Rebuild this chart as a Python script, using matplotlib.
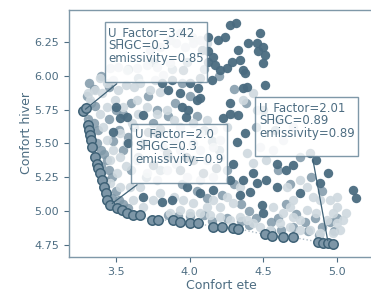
import matplotlib
matplotlib.use("Agg")
import matplotlib.pyplot as plt

# pareto front (dark edged points)
pareto_x = [3.278, 3.296, 3.312, 3.319, 3.324, 3.328, 3.335, 3.357, 3.369, 3.380, 3.391, 3.403,
            3.419, 3.432, 3.441, 3.459, 3.504, 3.539, 3.572, 3.618, 3.663, 3.742, 3.787, 3.889,
            3.934, 4.002, 4.058, 4.160, 4.217, 4.296, 4.330, 4.511, 4.556, 4.635, 4.703, 4.872,
            4.906, 4.940, 4.974]
pareto_y = [5.740, 5.760, 5.636, 5.600, 5.560, 5.525, 5.476, 5.400, 5.350, 5.316, 5.280, 5.230,
            5.180, 5.130, 5.080, 5.044, 5.020, 5.007, 4.988, 4.970, 4.970, 4.933, 4.933, 4.933,
            4.921, 4.914, 4.909, 4.884, 4.884, 4.872, 4.869, 4.827, 4.815, 4.810, 4.805, 4.773,
            4.766, 4.761, 4.756]

dark_x = [4.273, 4.314, 4.477, 4.398, 4.454, 4.500, 4.466, 4.510, 4.500, 4.330, 4.340, 4.364,
          4.285, 4.250, 4.206, 4.172, 4.127, 4.127, 4.195, 4.240, 4.127, 4.160, 4.080, 4.070,
          4.149, 4.000, 4.058, 3.934, 3.877, 3.957, 3.810, 3.855, 3.945, 3.990, 3.978, 4.047,
          4.070, 4.228, 4.273, 4.330, 4.319, 4.375, 4.386, 4.364, 4.270, 4.375, 4.510, 3.719,
          3.776, 3.800, 3.685, 3.572, 3.500, 3.527, 3.480, 3.584, 3.753, 3.844, 3.978, 4.025,
          4.296, 4.273, 4.364, 4.432, 4.454, 4.520, 4.590, 4.655, 4.748, 4.590, 4.860, 4.885,
          4.940, 5.110, 5.130, 4.816, 4.703, 4.160, 4.410, 4.490, 4.500, 4.340, 4.070, 3.980,
          3.877, 3.810, 3.685, 3.934, 4.090, 4.180]
dark_y = [6.376, 6.388, 6.319, 6.240, 6.245, 6.215, 6.180, 6.154, 6.092, 6.190, 6.117, 6.043,
          6.105, 6.055, 6.043, 6.080, 6.105, 6.290, 6.265, 6.290, 6.180, 6.140, 6.190, 5.980,
          5.970, 5.944, 5.907, 5.870, 5.970, 6.043, 5.944, 5.895, 5.770, 5.747, 5.698, 5.820,
          5.833, 5.685, 5.796, 5.710, 5.510, 5.574, 5.920, 5.907, 5.720, 6.018, 5.930, 5.587,
          5.574, 5.610, 5.710, 5.698, 5.770, 5.685, 5.587, 5.500, 5.340, 5.427, 5.400, 5.377,
          5.350, 5.230, 5.230, 5.280, 5.205, 5.230, 5.350, 5.300, 5.130, 5.180, 5.377, 5.205,
          5.280, 5.155, 5.094, 5.427, 5.340, 5.155, 5.143, 5.044, 4.983, 5.118, 5.130, 5.180,
          5.080, 5.070, 5.106, 5.300, 5.280, 5.316]

mid_x = [3.32, 3.35, 3.30, 3.33, 3.36, 3.31, 3.35, 3.38, 3.37, 3.40, 3.42, 3.44, 3.40, 3.45,
         3.47, 3.43, 3.50, 3.47, 3.52, 3.55, 3.58, 3.50, 3.55, 3.60, 3.45, 3.52, 3.58, 3.62,
         3.48, 3.55, 3.65, 3.60, 3.70, 3.68, 3.75, 3.72, 3.78, 3.85, 3.90, 3.95, 4.00, 4.05,
         4.10, 4.15, 4.20, 4.25, 3.85, 3.80, 3.95, 4.05, 4.12, 4.22, 4.30, 4.35, 4.40, 4.45,
         4.55, 4.60, 4.65, 4.72, 4.78, 4.85, 4.90, 4.95, 5.00, 4.98, 4.88, 4.80, 4.70, 4.62,
         4.55, 4.40, 4.35, 4.25, 4.15, 4.10, 4.00, 3.92, 3.85, 4.60, 4.68, 4.75, 4.82, 4.90,
         4.58, 4.50, 4.45, 4.38, 4.30, 4.20, 4.10, 3.98, 3.88, 3.75, 3.65, 3.58, 3.40, 3.45]
mid_y = [5.95, 5.90, 5.85, 5.80, 5.78, 5.68, 5.65, 5.60, 5.50, 5.45, 5.42, 5.38, 5.33, 5.30,
         5.25, 5.22, 5.15, 5.10, 5.08, 5.05, 5.02, 5.75, 5.72, 5.80, 5.68, 5.60, 5.55, 5.62,
         5.52, 5.45, 5.40, 5.30, 5.25, 5.50, 5.65, 5.85, 5.75, 5.70, 5.80, 5.95, 5.85, 5.70,
         5.60, 5.52, 5.45, 5.30, 5.40, 5.30, 5.20, 5.15, 5.10, 5.12, 5.20, 5.05, 5.00, 4.95,
         4.92, 4.95, 5.05, 4.98, 4.92, 4.95, 4.88, 4.92, 4.95, 4.85, 4.82, 4.85, 4.88, 4.86,
         4.85, 4.90, 4.93, 4.95, 4.93, 4.97, 4.96, 4.96, 4.97, 5.30, 5.20, 5.40, 5.25, 5.15,
         5.60, 5.75, 5.62, 5.80, 5.90, 6.00, 6.05, 6.10, 6.05, 6.10, 5.98, 6.05, 6.00, 5.92]

light_x = [3.460, 3.516, 3.572, 3.640, 3.708, 3.391, 3.437, 3.357, 3.324, 3.312, 3.403, 3.482,
           3.516, 3.570, 3.620, 3.663, 3.730, 3.800, 3.820, 3.765, 3.910, 3.966, 4.020, 4.070,
           4.115, 3.934, 4.013, 3.866, 3.776, 3.866, 3.730, 3.800, 3.640, 3.708, 3.776, 3.844,
           3.890, 3.934, 4.025, 4.070, 4.115, 4.160, 4.206, 3.890, 3.820, 3.934, 4.025, 4.070,
           4.160, 4.206, 4.115, 3.910, 3.844, 3.776, 3.708, 3.640, 3.570, 3.527, 3.480, 3.437,
           3.414, 3.391, 3.437, 3.493, 3.550, 3.606, 3.650, 3.527, 3.572, 3.460, 3.505, 3.460,
           3.527, 3.595, 3.663, 3.618, 3.685, 3.753, 3.800, 3.890, 3.957, 4.025, 4.115, 4.206,
           4.296, 4.160, 4.250, 3.980, 4.070, 4.160, 4.340, 4.296, 4.250, 4.364, 4.432, 4.454,
           4.386, 4.477, 4.432, 4.520, 4.567, 4.635, 4.590, 4.700, 4.567, 4.635, 4.703, 4.748,
           4.793, 4.860, 4.930, 4.974, 4.997, 5.020, 5.040, 4.974, 4.884, 4.817, 4.748, 4.680,
           4.612, 4.545, 4.477, 4.432, 4.386, 4.340, 4.273, 4.206, 4.138, 4.070, 4.000, 3.934,
           3.866, 4.703, 4.748, 4.793, 4.838, 4.884, 4.950, 4.997, 5.060, 4.997, 4.658, 4.680]
light_y = [6.055, 6.067, 6.043, 6.055, 6.080, 5.980, 5.944, 5.895, 5.820, 5.870, 5.870, 5.970,
           5.895, 5.930, 5.920, 5.944, 5.895, 5.880, 6.006, 5.970, 6.240, 6.215, 6.240, 6.265,
           6.240, 6.314, 6.290, 6.265, 6.067, 6.092, 6.190, 6.215, 5.820, 5.770, 5.720, 5.747,
           5.673, 5.624, 5.648, 5.574, 5.673, 5.600, 5.525, 5.525, 5.476, 5.450, 5.500, 5.450,
           5.476, 5.400, 5.377, 5.350, 5.300, 5.230, 5.280, 5.377, 5.330, 5.400, 5.450, 5.525,
           5.624, 5.720, 5.770, 5.820, 5.770, 5.648, 5.720, 5.574, 5.500, 5.377, 5.280, 5.205,
           5.180, 5.180, 5.180, 5.080, 5.032, 5.080, 5.130, 5.106, 5.080, 5.057, 5.032, 5.032,
           5.057, 5.080, 5.106, 5.254, 5.230, 5.254, 5.180, 5.720, 5.624, 5.820, 5.870, 5.747,
           5.427, 5.476, 5.353, 5.377, 5.450, 5.525, 5.673, 5.624, 5.032, 4.983, 4.958, 4.933,
           5.007, 4.983, 4.933, 4.983, 4.909, 4.860, 4.933, 4.835, 4.835, 4.860, 4.860, 4.884,
           4.909, 4.860, 4.884, 4.909, 4.933, 4.958, 4.933, 4.958, 4.970, 4.983, 4.983, 5.007,
           4.983, 5.080, 5.230, 5.180, 5.106, 5.080, 5.080, 5.032, 4.983, 5.106, 5.180, 5.032]

# annotated solutions: (label, point index in pareto list, text position)
notes = [("U_Factor=3.42\nSHGC=0.3\nemissivity=0.85\n", 0, (3.446, 6.368)),
         ("U_Factor=2.0\nSHGC=0.3\nemissivity=0.9\n", 15, (3.629, 5.621)),
         ("U_Factor=2.01\nSHGC=0.89\nemissivity=0.89\n", 37, (4.470, 5.814))]

ink = "#4d6d82"
fig = plt.figure(figsize=(3.71, 2.91), dpi=100)
# right edge of the axes runs just past the figure, as in the source image
ax = fig.add_axes([0.186, 0.117, 0.82, 0.849])

ax.scatter(mid_x, mid_y, s=46, c="#7f98a8", alpha=0.85, linewidths=0)
ax.scatter(light_x, light_y, s=46, c="#cfd9df", alpha=0.9, linewidths=0)
ax.scatter(dark_x, dark_y, s=46, c="#4a6b80", alpha=0.95, linewidths=0)
ax.plot(pareto_x, pareto_y, ls=":", lw=1, color="#aebcc6", zorder=3)
ax.scatter(pareto_x, pareto_y, s=46, c="#7d96a7", edgecolors="#3f6277", linewidths=1.1, zorder=4)

for label, i, pos in notes:
    ax.annotate(label, xy=(pareto_x[i], pareto_y[i]), xytext=pos, ha="left", va="top",
                fontsize=8.5, color=ink, linespacing=1.0, zorder=5,
                bbox=dict(boxstyle="square,pad=0.3", fc="white", ec="#5f7f93", lw=1, alpha=0.8),
                arrowprops=dict(arrowstyle="-", color="#3f6277", lw=0.9))

ax.set_xlim(3.181, 5.245)
ax.set_ylim(4.661, 6.487)
ax.set_xticks([3.5, 4.0, 4.5, 5.0])
ax.set_yticks([4.75, 5.0, 5.25, 5.5, 5.75, 6.0, 6.25])
ax.set_xlabel("Confort ete", fontsize=9, color=ink, labelpad=2)
ax.set_ylabel("Confort hiver", fontsize=9, color=ink, labelpad=1)
ax.tick_params(colors=ink, labelsize=8, length=3.5, width=0.8)
for sp in ax.spines.values():
    sp.set_color("#7f98a8")
    sp.set_linewidth(1)

fig.savefig("out.png", dpi=100)
